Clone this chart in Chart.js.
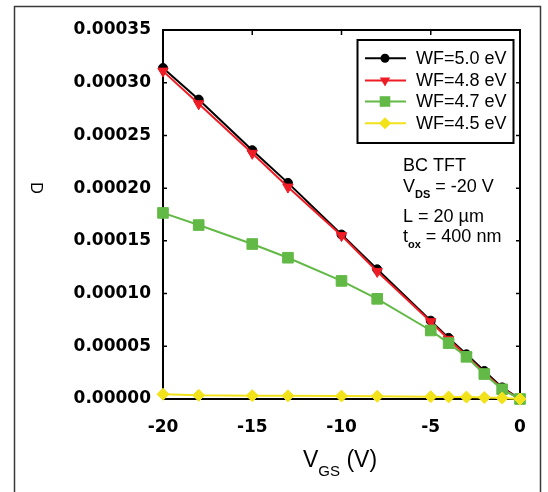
<!DOCTYPE html>
<html>
<head>
<meta charset="utf-8">
<script src="https://cdn.jsdelivr.net/npm/chart.js@4.4.1/dist/chart.umd.min.js"></script>
<style>
  html, body { margin: 0; padding: 0; background: #fff; }
  canvas { display: block; }
</style>
</head>
<body>
<canvas id="tftChart" width="548" height="492"></canvas>
<script>
// gate voltage points (V)
const vgs = [-20, -18, -15, -13, -10, -8, -5, -4, -3, -2, -1, 0];
// drain current for each work function
const wf50 = [0.000314, 0.000284, 0.000236, 0.000205, 0.000156, 0.000123, 0.0000743, 0.000058, 0.0000424, 0.0000266, 0.000011, 0];
const wf48 = [0.000311, 0.00028, 0.000233, 0.000201, 0.000155, 0.000121, 0.0000733, 0.0000566, 0.000041, 0.000025, 0.00001, 0];
const wf47 = [0.0001765, 0.000165, 0.000147, 0.000134, 0.000112, 0.000095, 0.000065, 0.000053, 0.00004, 0.0000237, 0.0000092, 0];
const wf45 = [0.0000045, 0.0000035, 0.0000032, 0.000003, 0.0000028, 0.0000026, 0.0000022, 0.000002, 0.0000018, 0.0000014, 0.000001, 0];
const seriesLabels = ["WF=5.0 eV", "WF=4.8 eV", "WF=4.7 eV", "WF=4.5 eV"];
const xTickValues = [-20, -15, -10, -5, 0];
const yTickValues = [0, 0.00005, 0.0001, 0.00015, 0.0002, 0.00025, 0.0003, 0.00035];

const sans = "'Liberation Sans', Arial, sans-serif";
const tickFont = { family: "'DejaVu Sans', sans-serif", size: 17, weight: "bold" };

function toPoints(ys) {
  return vgs.map((x, i) => ({ x: x, y: ys[i] }));
}

function makeSet(label, ys, color, style, radius, rotation, order) {
  return {
    label: label,
    data: toPoints(ys),
    borderColor: color,
    backgroundColor: color,
    borderWidth: 2,
    pointStyle: style,
    pointRadius: radius,
    pointRotation: rotation,
    pointBorderWidth: 1,
    pointBorderColor: color,
    pointBackgroundColor: color,
    clip: false,
    order: order,
  };
}

const datasets = [
  makeSet(seriesLabels[0], wf50, "#000000", "circle", 4.5, 0, 3),
  makeSet(seriesLabels[1], wf48, "#ee1c24", "triangle", 6, 180, 2),
  makeSet(seriesLabels[2], wf47, "#62b946", "rect", 7.5, 0, 1),
  makeSet(seriesLabels[3], wf45, "#f2e21a", "rectRot", 6, 0, 0),
];

// marker drawing for the legend (same shapes as chart points)
function drawMarker(ctx, style, x, y, r, rotation, color) {
  ctx.save();
  ctx.translate(x, y);
  ctx.rotate((rotation || 0) * Math.PI / 180);
  ctx.fillStyle = color;
  ctx.beginPath();
  if (style === "circle") {
    ctx.arc(0, 0, r, 0, Math.PI * 2);
  } else if (style === "triangle") {
    ctx.moveTo(0, -r);
    ctx.lineTo(r * Math.sin(Math.PI / 3), r * 0.5);
    ctx.lineTo(-r * Math.sin(Math.PI / 3), r * 0.5);
    ctx.closePath();
  } else if (style === "rect") {
    const s = r * Math.SQRT1_2;
    ctx.rect(-s, -s, s * 2, s * 2);
  } else {
    ctx.moveTo(0, -r);
    ctx.lineTo(r, 0);
    ctx.lineTo(0, r);
    ctx.lineTo(-r, 0);
    ctx.closePath();
  }
  ctx.fill();
  ctx.restore();
}

// text with subscripts: parts = [text, size, bold, dy]
function drawRich(ctx, x, y, parts) {
  ctx.textBaseline = "alphabetic";
  ctx.textAlign = "left";
  parts.forEach(p => {
    ctx.font = (p[2] ? "bold " : "") + p[1] + "px " + sans;
    ctx.fillText(p[0], x, y + (p[3] || 0));
    x += ctx.measureText(p[0]).width;
  });
}

const framePlugin = {
  id: "framePlugin",
  beforeDatasetsDraw(chart) {
    const ctx = chart.ctx;
    const a = chart.chartArea;
    const xs = chart.scales.x;
    const ys = chart.scales.y;
    ctx.save();
    // outer frame of the figure
    ctx.strokeStyle = "#3a3a3a";
    ctx.lineWidth = 1.5;
    ctx.strokeRect(14.5, 6.5, 526, 500);
    // top and right border of the plot box
    ctx.strokeStyle = "#000";
    ctx.lineWidth = 2;
    ctx.beginPath();
    ctx.moveTo(a.left, a.top);
    ctx.lineTo(a.right, a.top);
    ctx.lineTo(a.right, a.bottom);
    ctx.stroke();
    // inward tick marks
    ctx.lineWidth = 1.5;
    ctx.beginPath();
    xTickValues.forEach(v => {
      const px = xs.getPixelForValue(v);
      ctx.moveTo(px, a.top);
      ctx.lineTo(px, a.top + 5);
      ctx.moveTo(px, a.bottom);
      ctx.lineTo(px, a.bottom - 5);
    });
    yTickValues.forEach(v => {
      const py = ys.getPixelForValue(v);
      ctx.moveTo(a.left, py);
      ctx.lineTo(a.left + 4, py);
      ctx.moveTo(a.right, py);
      ctx.lineTo(a.right - 4, py);
    });
    ctx.stroke();
    ctx.restore();
  },
  afterDraw(chart) {
    const ctx = chart.ctx;
    ctx.save();
    // legend box
    ctx.strokeStyle = "#000";
    ctx.lineWidth = 2;
    ctx.strokeRect(357.5, 40, 156, 103);
    const rowY = [58.3, 80.5, 101.5, 123.3];
    chart.data.datasets.forEach((ds, i) => {
      const y = rowY[i];
      ctx.strokeStyle = ds.borderColor;
      ctx.lineWidth = 2;
      ctx.beginPath();
      ctx.moveTo(365, y);
      ctx.lineTo(406, y);
      ctx.stroke();
      drawMarker(ctx, ds.pointStyle, 385, y, ds.pointRadius, ds.pointRotation, ds.pointBackgroundColor);
      ctx.fillStyle = "#000";
      ctx.font = "18px " + sans;
      ctx.textBaseline = "middle";
      ctx.textAlign = "left";
      ctx.fillText(ds.label, 416, y + 1);
    });
    // device annotation
    ctx.fillStyle = "#000";
    drawRich(ctx, 403, 171, [["BC TFT", 18]]);
    drawRich(ctx, 403, 191.7, [["V", 18], ["DS", 11, true, 6.5], [" = -20 V", 18]]);
    drawRich(ctx, 403, 221.7, [["L = 20 \u00b5m", 18]]);
    drawRich(ctx, 403, 241.7, [["t", 18], ["ox", 11, true, 6.6], [" = 400 nm", 18]]);
    // x axis title
    drawRich(ctx, 303, 467, [["V", 23], ["GS", 15, false, 9], [" (V)", 23]]);
    // y axis title (rotated clockwise as in the figure)
    ctx.translate(35, 188);
    ctx.rotate(Math.PI / 2);
    ctx.font = "16px " + sans;
    ctx.textAlign = "center";
    ctx.textBaseline = "middle";
    ctx.fillText("D", 0, 0);
    ctx.restore();
  },
};

const tftChart = new Chart(document.getElementById("tftChart"), {
  type: "line",
  data: { datasets: datasets },
  options: {
    responsive: false,
    animation: false,
    devicePixelRatio: 1,
    layout: { padding: { left: 0, top: 30, right: 28, bottom: 0 } },
    plugins: {
      legend: { display: false },
      tooltip: { enabled: false },
    },
    scales: {
      x: {
        type: "linear",
        min: -20,
        max: 0,
        afterFit: scale => { scale.height = 93; },
        afterBuildTicks: scale => { scale.ticks = xTickValues.map(v => ({ value: v })); },
        ticks: { color: "#000", font: tickFont, padding: 18, maxRotation: 0 },
        grid: { drawOnChartArea: false, drawTicks: false },
        border: { color: "#000", width: 2 },
      },
      y: {
        type: "linear",
        min: 0,
        max: 0.00035,
        afterFit: scale => { scale.width = 163; },
        afterBuildTicks: scale => { scale.ticks = yTickValues.map(v => ({ value: v })); },
        ticks: { color: "#000", font: tickFont, padding: 12, callback: v => v.toFixed(5) },
        grid: { drawOnChartArea: false, drawTicks: false },
        border: { color: "#000", width: 2 },
      },
    },
  },
  plugins: [framePlugin],
});
</script>
</body>
</html>
